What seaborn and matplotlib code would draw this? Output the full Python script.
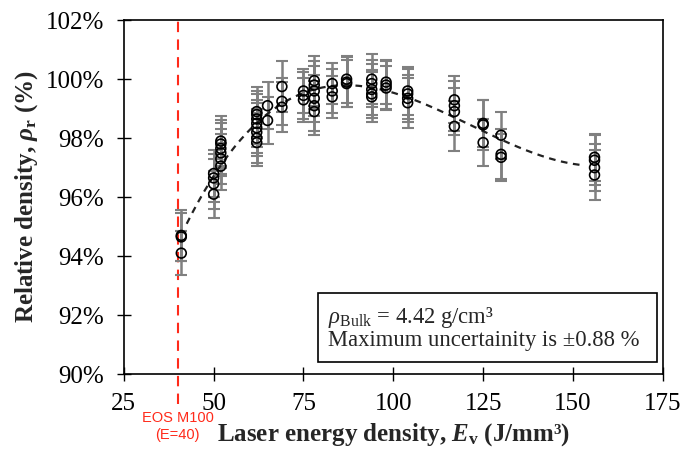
import numpy as np
import pandas as pd
import seaborn as sns
import matplotlib.pyplot as plt
from matplotlib.patches import Rectangle
from matplotlib.transforms import blended_transform_factory

sns.set_theme(style="ticks")
plt.rcParams['font.family'] = ['Liberation Serif', 'DejaVu Serif']
plt.rcParams['mathtext.fontset'] = 'custom'
plt.rcParams['mathtext.rm'] = 'Liberation Serif'
plt.rcParams['mathtext.it'] = 'Liberation Serif:italic:bold'
plt.rcParams['mathtext.bf'] = 'Liberation Serif:bold'
plt.rcParams['mathtext.sf'] = 'Liberation Serif:italic'

# laser energy density (J/mm3), relative density (%), uncertainty (%)
energy = [41, 41, 41,
          50, 50, 50, 50,
          52, 52, 52, 52, 52, 52,
          62, 62, 62, 62, 62, 62, 62, 62,
          65, 65,
          69, 69, 69,
          75, 75, 75,
          78, 78, 78, 78, 78, 78,
          83, 83, 83,
          87, 87, 87,
          94, 94, 94, 94, 94,
          98, 98, 98,
          104, 104, 104, 104,
          117, 117, 117, 117,
          125, 125, 125,
          130, 130, 130,
          156, 156, 156, 156]
density = [94.70, 94.65, 94.10,
           96.80, 96.65, 96.45, 96.10,
           97.90, 97.80, 97.65, 97.50, 97.30, 97.05,
           98.90, 98.80, 98.65, 98.50, 98.35, 98.20, 98.00, 97.85,
           99.10, 98.60,
           99.75, 99.25, 99.05,
           99.60, 99.45, 99.30,
           99.95, 99.80, 99.60, 99.35, 99.10, 98.90,
           99.85, 99.60, 99.40,
           100.00, 99.90, 99.85,
           100.00, 99.85, 99.65, 99.50, 99.40,
           99.90, 99.80, 99.70,
           99.60, 99.50, 99.35, 99.20,
           99.30, 99.10, 98.90, 98.40,
           98.50, 98.45, 97.85,
           98.10, 97.45, 97.35,
           97.35, 97.25, 97.00, 96.75]
uncert = [0.85, 0.80, 0.75,
          0.80, 0.80, 0.85, 0.80,
          0.85, 0.80, 0.85, 0.80, 0.85, 0.80,
          0.85, 0.80, 0.85, 0.80, 0.85, 0.80, 0.85, 0.80,
          0.80, 0.80,
          0.85, 0.80, 0.85,
          0.75, 0.80, 0.75,
          0.85, 0.80, 0.85, 0.80, 0.85, 0.80,
          0.70, 0.75, 0.70,
          0.80, 0.85, 0.80,
          0.85, 0.80, 0.85, 0.80, 0.85,
          0.75, 0.80, 0.75,
          0.80, 0.85, 0.80, 0.85,
          0.80, 0.85, 0.80, 0.85,
          0.80, 0.85, 0.80,
          0.80, 0.85, 0.80,
          0.80, 0.85, 0.80, 0.85]

df = pd.DataFrame({'E': energy, 'rho': density, 'err': uncert})

# polynomial trend line through the measurements
coef = np.polyfit(df['E'], df['rho'], 3)
fit_x = np.linspace(df['E'].min() + 1.5, df['E'].max() - 3, 200)
fit = pd.DataFrame({'E': fit_x, 'rho': np.polyval(coef, fit_x)})

fig = plt.figure(figsize=(6.84, 4.49), dpi=100)
ax = fig.add_axes([0.181, 0.167, 0.788, 0.788])

ax.errorbar(df['E'], df['rho'], yerr=df['err'], fmt='none', ecolor='#808080',
            elinewidth=1.8, capsize=4, capthick=1.5, zorder=2)
sns.lineplot(data=fit, x='E', y='rho', ax=ax, color='#222222', lw=1.6,
             linestyle=(0, (3, 2.5)), zorder=3)
sns.scatterplot(data=df, x='E', y='rho', ax=ax, marker='o', s=50,
                facecolor='none', edgecolor='black', linewidth=1.2, zorder=4)

# EOS M100 reference line
ax.axvline(40, ymin=-0.085, ymax=1, color='#ff2a1a', lw=1.5,
           linestyle=(0, (5, 3.5)), clip_on=False, zorder=1)
trans = blended_transform_factory(ax.transData, ax.transAxes)
ax.text(40, -0.105, 'EOS M100\n(E=40)', transform=trans, ha='center', va='top',
        color='#ff2a1a', fontsize=10.5, family=['Liberation Sans', 'DejaVu Sans'],
        linespacing=1.25)

ax.set_xlim(25, 175)
ax.set_ylim(90, 102)
ax.set_xticks([25, 50, 75, 100, 125, 150, 175])
ax.set_yticks([90, 92, 94, 96, 98, 100, 102])
ax.set_yticklabels([f'{v}%' for v in [90, 92, 94, 96, 98, 100, 102]])
ax.tick_params(direction='inout', length=10, width=1, labelsize=18, colors='black')
ax.tick_params(axis='x', pad=9)
ax.tick_params(axis='y', pad=9)
for s in ax.spines.values():
    s.set_linewidth(1.2)
    s.set_color('black')

ax.set_xlabel('Laser energy density, $E_\\mathbf{v}$ (J/mm³)', fontsize=18,
              fontweight='bold', labelpad=4)
ax.set_ylabel('Relative density, $\\rho_\\mathbf{r}$ (%)', fontsize=18,
              fontweight='bold', labelpad=4)

# note box
ax.add_patch(Rectangle((0.36, 0.034), 0.629, 0.195, transform=ax.transAxes,
                       fc='white', ec='black', lw=1.2, zorder=5))
ax.text(0.378, 0.131, '$\\mathsf{\\rho}_\\mathrm{Bulk}$ = 4.42 g/cm³\nMaximum uncertainity is ±0.88 %',
        transform=ax.transAxes, fontsize=16.3, va='center', ha='left',
        linespacing=1.0, zorder=6)

fig.savefig('out.png', dpi=100)
